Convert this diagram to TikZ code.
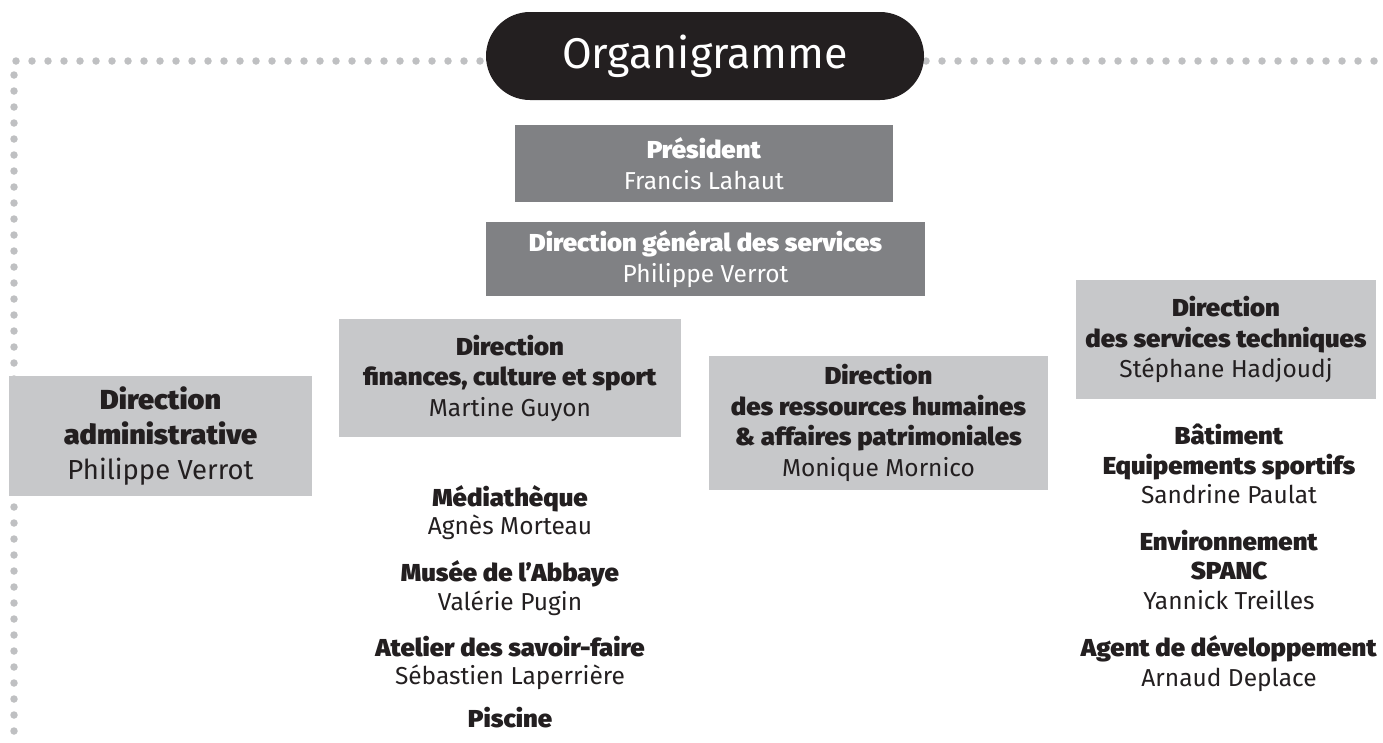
\documentclass[tikz,border=0pt]{standalone}
\usepackage{fontspec}
\setmainfont{Fira Sans}[BoldFont={Fira Sans Black}, BoldFeatures={FakeStretch=1.05}]
\usetikzlibrary{positioning}

\definecolor{pillblack}{HTML}{231F20}
\definecolor{darkgrey}{HTML}{808184}
\definecolor{lightgrey}{HTML}{C7C8CA}
\definecolor{dotgrey}{HTML}{BFC0C2}
\definecolor{textblack}{HTML}{231F20}

\tikzset{
  dotline/.style={draw=dotgrey, line width=7.5pt, line cap=round, dash pattern=on 0pt off 16pt},
  pill/.style={fill=pillblack, text=white, rounded corners=44pt, minimum width=438pt, minimum height=88pt, font=\fontsize{43}{48}\selectfont},
  darkbox/.style={fill=darkgrey, text=white, align=center, inner sep=0pt, font=\fontsize{24.5}{30.5}\selectfont},
  lightbox/.style={fill=lightgrey, text=textblack, align=center, inner sep=0pt, font=\fontsize{24.5}{30.5}\selectfont},
  item/.style={text=textblack, align=center, inner sep=0pt, font=\fontsize{24.5}{28.5}\selectfont,
    execute at begin node=\strut, execute at end node=\strut},
  tallitem/.style={item, font=\fontsize{24.5}{29.5}\selectfont}
}

\begin{document}
\begin{tikzpicture}[x=1pt,y=-1pt,node distance=17pt]
\useasboundingbox (0,0) rectangle (1383,742);

% dotted frame
\draw [dotline] (480,61) -- (14,61) -- (14,732);
\draw [dotline] (926,61) -- (1376,61);

\node [pill] (title) at (705,56) {Organigramme};

\node [darkbox, minimum width=378pt, minimum height=77pt] (pres) at (704,163.5) {\textbf{Président}\\Francis Lahaut};
\node [darkbox, minimum width=439pt, minimum height=74pt] (dgs) at (705.5,259) {\textbf{Direction général des services}\\Philippe Verrot};

\node [lightbox, minimum width=303pt, minimum height=120pt, font=\fontsize{27.5}{35}\selectfont] (admin) at (160.5,436) {\textbf{Direction}\\\textbf{administrative}\\Philippe Verrot};
\node [lightbox, minimum width=342pt, minimum height=118pt] (fin) at (510,378) {\textbf{Direction}\\\textbf{finances, culture et sport}\\Martine Guyon};
\node [lightbox, minimum width=339pt, minimum height=134pt] (rh) at (878.5,423) {\textbf{Direction}\\\textbf{des ressources humaines}\\\textbf{\& affaires patrimoniales}\\Monique Mornico};
\node [lightbox, minimum width=300pt, minimum height=119pt] (tech) at (1226,339.5) {\textbf{Direction}\\\textbf{des services techniques}\\Stéphane Hadjoudj};

% services under finances
\node [item, anchor=north] (media) at (510,485) {\textbf{Médiathèque}\\Agnès Morteau};
\node [item] [below=of media] (musee) {\textbf{Musée de l'Abbaye}\\Valérie Pugin};
\node [item] [below=of musee] (atelier) {\textbf{Atelier des savoir-faire}\\Sébastien Laperrière};
\node [item] [below=13pt of atelier] (piscine) {\textbf{Piscine}};

% services under technique
\node [tallitem, anchor=north] (batiment) at (1229,424) {\textbf{Bâtiment}\\\textbf{Equipements sportifs}\\Sandrine Paulat};
\node [tallitem] [below=of batiment] (envir) {\textbf{Environnement}\\\textbf{SPANC}\\Yannick Treilles};
\node [tallitem] [below=of envir] (agent) {\textbf{Agent de développement}\\Arnaud Deplace};
\end{tikzpicture}
\end{document}
